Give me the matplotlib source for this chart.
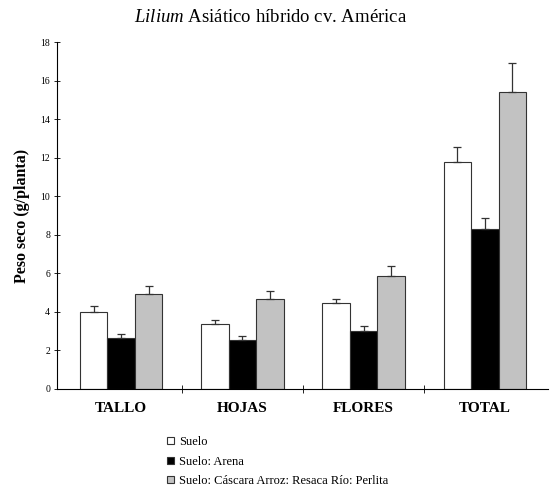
import numpy as np
import matplotlib
matplotlib.use("Agg")
import matplotlib.pyplot as plt
from matplotlib.patches import Patch

# Datos (peso seco, g/planta)
categorias = ["TALLO", "HOJAS", "FLORES", "TOTAL"]
series = ["Suelo", "Suelo: Arena", "Suelo: Cáscara Arroz: Resaca Río: Perlita"]
suelo = [4.0, 3.35, 4.45, 11.8]
suelo_err = [0.3, 0.25, 0.2, 0.75]
arena = [2.65, 2.55, 3.0, 8.3]
arena_err = [0.2, 0.2, 0.25, 0.55]
mezcla = [4.95, 4.65, 5.85, 15.4]
mezcla_err = [0.4, 0.45, 0.55, 1.5]
colores = ["white", "black", "#c2c2c2"]

plt.rcParams["font.family"] = ["Liberation Serif", "DejaVu Serif"]
plt.rcParams["mathtext.fontset"] = "custom"
plt.rcParams["mathtext.rm"] = "Liberation Serif"
plt.rcParams["mathtext.it"] = "Liberation Serif:italic"

fig = plt.figure(figsize=(5.52, 4.87), dpi=100)
ax = fig.add_axes([57 / 552, 1 - 389 / 487, 491 / 552, 347 / 487])

x = np.arange(len(categorias))
w = 0.227
valores = [suelo, arena, mezcla]
errores = [suelo_err, arena_err, mezcla_err]
for i in range(3):
    # barras de error solo hacia arriba
    ax.bar(x + (i - 1) * w, valores[i], w, color=colores[i], edgecolor="#333333",
           linewidth=0.8, yerr=[np.zeros(len(errores[i])), errores[i]],
           error_kw=dict(ecolor="#333333", elinewidth=0.9, capsize=3, capthick=0.9),
           zorder=2)

ax.set_xlim(-0.528, 3.52)
ax.set_ylim(0, 18)
ax.set_yticks(np.arange(0, 19, 2))
ax.tick_params(axis="y", labelsize=7, direction="inout", length=4, width=0.6, pad=3)
ax.set_xticks(x)
ax.set_xticklabels(categorias, fontsize=11, fontweight="bold")
ax.tick_params(axis="x", length=0, pad=9)
ax.set_xticks([0.5, 1.5, 2.5], minor=True)
ax.tick_params(axis="x", which="minor", direction="inout", length=6, width=0.6)

for s in ["top", "right"]:
    ax.spines[s].set_visible(False)
ax.spines["left"].set_linewidth(0.8)
ax.spines["bottom"].set_linewidth(0.8)

fig.text(22 / 552, 1 - 216 / 487, "Peso seco (g/planta)", rotation=90,
         ha="center", va="center", fontsize=11.5, fontweight="bold")

fig.text(271 / 552, 1 - 18 / 487, r"$\it{Lilium}$ Asiático híbrido cv. América",
         ha="center", va="center", fontsize=13.5)

handles = [Patch(facecolor=colores[i], edgecolor="#333333", linewidth=0.8) for i in range(3)]
fig.legend(handles, series, loc="upper left", bbox_to_anchor=(161 / 552, 1 - 430 / 487),
           frameon=False, fontsize=9, handlelength=0.5, handleheight=0.5,
           handletextpad=0.45, labelspacing=0.6, borderpad=0)

fig.savefig("out.png", dpi=100)
